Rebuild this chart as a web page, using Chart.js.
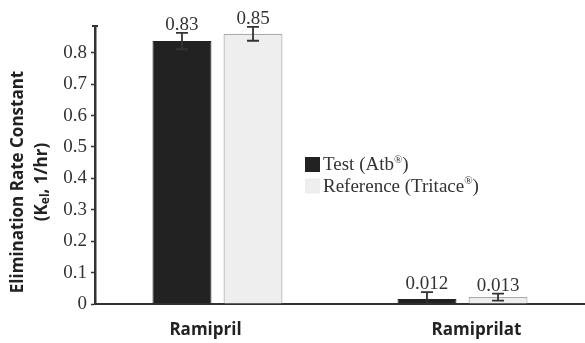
<!DOCTYPE html>
<html>
<head>
<meta charset="utf-8">
<script src="https://cdn.jsdelivr.net/npm/chart.js@4"></script>
<style>
  html, body { margin: 0; padding: 0; background: #fff; }
  #wrap { width: 585px; height: 343px; position: relative; }
</style>
</head>
<body>
<div id="wrap"><canvas id="chart"></canvas></div>
<script>
const categories = ["Ramipril", "Ramiprilat"];
const seriesNames = ["Test (Atb\u00AE)", "Reference (Tritace\u00AE)"];
const testValues = [0.837, 0.016];
const referenceValues = [0.86, 0.022];
const testErrors = [0.026, 0.022];
const referenceErrors = [0.022, 0.011];
const testLabels = ["0.83", "0.012"];
const referenceLabels = ["0.85", "0.013"];
const yTicks = [0, 0.1, 0.2, 0.3, 0.4, 0.5, 0.6, 0.7, 0.8];

const serif = "'Liberation Serif', 'DejaVu Serif', serif";
const sans = "'Open Sans', 'Noto Sans', sans-serif";
const errors = [testErrors, referenceErrors];
const valueLabels = [testLabels, referenceLabels];

// draw text, with "®" set small and raised
function drawSup(ctx, text, x, y, size) {
  const parts = text.split("\u00AE");
  let cx = x;
  parts.forEach((p, i) => {
    ctx.font = size + "px " + serif;
    ctx.fillText(p, cx, y);
    cx += ctx.measureText(p).width;
    if (i < parts.length - 1) {
      ctx.font = Math.round(size * 0.6) + "px " + serif;
      ctx.fillText("\u00AE", cx, y - size * 0.38);
      cx += ctx.measureText("\u00AE").width;
    }
  });
}

const errorBarPlugin = {
  id: "errorBars",
  afterDatasetsDraw(chart) {
    const { ctx } = chart;
    const y = chart.scales.y;
    chart.data.datasets.forEach((ds, di) => {
      chart.getDatasetMeta(di).data.forEach((bar, i) => {
        const v = ds.data[i];
        const e = errors[di][i];
        const top = y.getPixelForValue(v + e);
        const bottom = y.getPixelForValue(Math.max(0, v - e));
        ctx.save();
        ctx.strokeStyle = "#333";
        ctx.lineWidth = 1.8;
        ctx.beginPath();
        ctx.moveTo(bar.x, top);
        ctx.lineTo(bar.x, bottom);
        ctx.moveTo(bar.x - 6, top);
        ctx.lineTo(bar.x + 6, top);
        ctx.moveTo(bar.x - 6, bottom);
        ctx.lineTo(bar.x + 6, bottom);
        ctx.stroke();
        ctx.fillStyle = "#333";
        ctx.font = "19px " + serif;
        ctx.textAlign = "center";
        ctx.textBaseline = "alphabetic";
        ctx.fillText(valueLabels[di][i], bar.x, top - 3);
        ctx.restore();
      });
    });
  },
};

const decorPlugin = {
  id: "decor",
  afterDraw(chart) {
    const { ctx, chartArea } = chart;
    const xs = chart.scales.x;

    // category labels (sit a little off the group centres in the original)
    const nudge = [-12, 14];
    ctx.save();
    ctx.fillStyle = "#222";
    ctx.font = "bold 17px " + sans;
    ctx.textAlign = "center";
    ctx.textBaseline = "alphabetic";
    categories.forEach((c, i) => ctx.fillText(c, xs.getPixelForValue(i) + nudge[i], 335));
    ctx.restore();

    // y axis title
    ctx.save();
    ctx.translate(18, 182);
    ctx.rotate(-Math.PI / 2);
    ctx.fillStyle = "#222";
    ctx.font = "bold 17px " + sans;
    ctx.textAlign = "center";
    ctx.textBaseline = "middle";
    ctx.fillText("Elimination Rate Constant", 0, 0);
    const parts = [["(K", 17, 0], ["el", 12, 4], [", 1/hr)", 17, 0]];
    let total = 0;
    parts.forEach((p) => { ctx.font = "bold " + p[1] + "px " + sans; total += ctx.measureText(p[0]).width; });
    let x = -total / 2;
    ctx.textAlign = "left";
    parts.forEach((p) => {
      ctx.font = "bold " + p[1] + "px " + sans;
      ctx.fillText(p[0], x, 24 + p[2]);
      x += ctx.measureText(p[0]).width;
    });
    ctx.restore();

    // small cap at top of the y axis
    ctx.save();
    ctx.strokeStyle = "#333";
    ctx.lineWidth = 2;
    ctx.beginPath();
    ctx.moveTo(chartArea.left - 3, chartArea.top);
    ctx.lineTo(chartArea.left + 3, chartArea.top);
    ctx.stroke();
    ctx.restore();

    // legend
    ctx.save();
    const lx = 305, ly = 157;
    ctx.textBaseline = "alphabetic";
    ctx.textAlign = "left";
    chart.data.datasets.forEach((ds, i) => {
      const yy = ly + i * 21.5;
      ctx.fillStyle = ds.backgroundColor;
      ctx.fillRect(lx, yy, 15, 15);
      ctx.fillStyle = "#333";
      drawSup(ctx, ds.label, lx + 18, yy + 13, 19);
    });
    ctx.restore();
  },
};

new Chart(document.getElementById("chart"), {
  type: "bar",
  data: {
    labels: categories,
    datasets: [
      {
        label: seriesNames[0],
        data: testValues,
        backgroundColor: "#222222",
        borderColor: "#222222",
        borderWidth: 1,
      },
      {
        label: seriesNames[1],
        data: referenceValues,
        backgroundColor: "#eeeeee",
        borderColor: "#aaaaaa",
        borderWidth: 1.2,
      },
    ],
  },
  options: {
    responsive: true,
    maintainAspectRatio: false,
    animation: false,
    layout: { padding: { top: 26, right: 0, left: 0, bottom: 0 } },
    datasets: { bar: { categoryPercentage: 0.58, barPercentage: 0.83 } },
    plugins: { legend: { display: false }, tooltip: { enabled: false } },
    scales: {
      x: {
        grid: { display: false, drawTicks: false },
        border: { color: "#333", width: 2 },
        ticks: { display: false },
        afterFit: (s) => { s.height = 39; },
      },
      y: {
        min: 0,
        max: 0.885,
        grid: { display: true, drawOnChartArea: false, drawTicks: true, tickLength: 4, tickColor: "#333", tickWidth: 1.5 },
        border: { color: "#333", width: 2.5 },
        afterBuildTicks: (s) => { s.ticks = yTicks.map((v) => ({ value: v })); },
        ticks: {
          color: "#333",
          font: { family: serif, size: 19 },
          padding: 4,
          callback: (v) => String(Math.round(v * 10) / 10),
        },
        afterFit: (s) => { s.width = 95; },
      },
    },
  },
  plugins: [errorBarPlugin, decorPlugin],
});
</script>
</body>
</html>
